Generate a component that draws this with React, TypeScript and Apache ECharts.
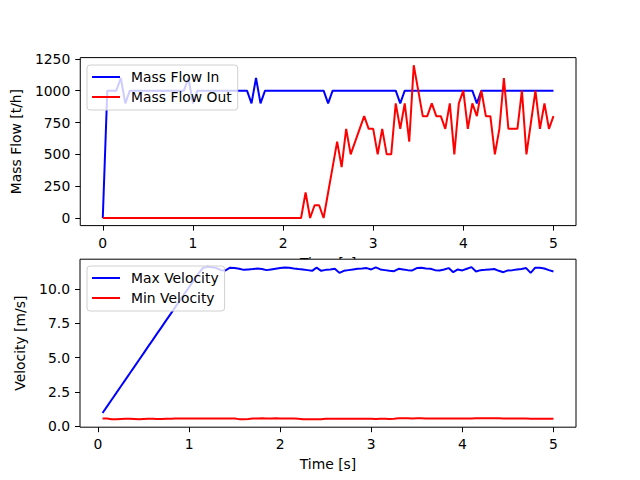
import React, { useEffect, useRef } from "react";
import * as echarts from "echarts";

// ---- Data ----
// time grid for the mass-flow plot (0 .. 5 s, step 0.05)
const timeFlow: number[] = Array.from({ length: 101 }, (_, i) => Math.round(i * 5) / 100);
// time grid for the velocity plot (0.05 .. 5 s, step 0.05)
const timeVel: number[] = Array.from({ length: 100 }, (_, i) => Math.round((i + 1) * 5) / 100);

const massFlowIn: number[] = [
  0, 1000, 1000, 1000, 1100, 900, 1000, 1000, 1000, 1000,
  1000, 1000, 1000, 1000, 1000, 1000, 1000, 1000, 1000, 1100,
  900, 1000, 1000, 1000, 1000, 1000, 1000, 1000, 1000, 1000,
  1000, 1000, 1000, 900, 1100, 900, 1000, 1000, 1000, 1000,
  1000, 1000, 1000, 1000, 1000, 1000, 1000, 1000, 1000, 1000,
  900, 1000, 1000, 1000, 1000, 1000, 1000, 1000, 1000, 1000,
  1000, 1000, 1000, 1000, 1000, 1000, 900, 1000, 1000, 1000,
  1000, 1000, 1000, 1000, 1000, 1000, 1000, 1000, 1000, 1000,
  1000, 1000, 1000, 900, 1000, 1000, 1000, 1000, 1000, 1000,
  1000, 1000, 1000, 1000, 1000, 1000, 1000, 1000, 1000, 1000,
  1000,
];

const massFlowOut: number[] = [
  0, 0, 0, 0, 0, 0, 0, 0, 0, 0,
  0, 0, 0, 0, 0, 0, 0, 0, 0, 0,
  0, 0, 0, 0, 0, 0, 0, 0, 0, 0,
  0, 0, 0, 0, 0, 0, 0, 0, 0, 0,
  0, 0, 0, 0, 0, 200, 0, 100, 100, 0,
  200, 400, 600, 400, 700, 500, 600, 700, 800, 700,
  700, 500, 700, 500, 500, 900, 700, 900, 600, 1200,
  1000, 800, 800, 900, 800, 800, 700, 900, 500, 900,
  1000, 700, 900, 800, 1000, 800, 800, 500, 700, 1100,
  700, 700, 700, 1000, 500, 750, 1000, 700, 900, 700,
  800,
];

const maxVelocity: number[] = [
  0.95, 1.43, 1.92, 2.4, 2.89, 3.37, 3.86, 4.34, 4.83, 5.31,
  5.8, 6.28, 6.77, 7.25, 7.74, 8.22, 8.71, 9.19, 9.68, 10.16,
  10.65, 11.13, 11.55, 11.64, 11.62, 11.55, 11.4, 11.38, 11.58, 11.55,
  11.5, 11.42, 11.45, 11.48, 11.52, 11.48, 11.4, 11.45, 11.5, 11.55,
  11.6, 11.58, 11.52, 11.48, 11.45, 11.4, 11.35, 11.58, 11.35, 11.42,
  11.45, 11.5, 11.2, 11.35, 11.4, 11.45, 11.5, 11.52, 11.55, 11.45,
  11.6, 11.45, 11.4, 11.35, 11.32, 11.5, 11.45, 11.4, 11.38, 11.55,
  11.58, 11.52, 11.5, 11.4, 11.38, 11.45, 11.55, 11.25, 11.45, 11.38,
  11.5, 11.62, 11.3, 11.4, 11.42, 11.45, 11.48, 11.35, 11.25, 11.38,
  11.4, 11.45, 11.48, 11.55, 11.2, 11.58, 11.58, 11.52, 11.4, 11.3,
];

const minVelocity: number[] = [
  0.55, 0.54, 0.5,
  0.5, 0.51, 0.52, 0.52, 0.51, 0.5, 0.51, 0.52, 0.52, 0.51, 0.51, 0.52, 0.52,
  0.54, 0.55, 0.55, 0.54, 0.55, 0.55, 0.55, 0.54, 0.55, 0.55, 0.55, 0.54, 0.54, 0.55,
  0.5, 0.5, 0.51,
  0.55, 0.55, 0.56, 0.55, 0.55, 0.56, 0.55, 0.55, 0.54, 0.55, 0.53,
  0.5, 0.5, 0.49, 0.5, 0.5,
  0.53, 0.53, 0.52, 0.53, 0.53, 0.52, 0.52, 0.53, 0.52, 0.52, 0.52, 0.51, 0.52, 0.52, 0.51, 0.52,
  0.56, 0.56, 0.56, 0.55, 0.56, 0.56, 0.55, 0.55, 0.55, 0.54, 0.55, 0.55, 0.54, 0.54, 0.54, 0.54, 0.55,
  0.57, 0.57, 0.57, 0.56, 0.56, 0.56, 0.55, 0.55, 0.55, 0.55,
  0.54, 0.54, 0.53, 0.53, 0.53, 0.53, 0.53, 0.52,
];

const xTicks: number[] = [0, 1, 2, 3, 4, 5];
const flowTicks: number[] = [0, 250, 500, 750, 1000, 1250];
const velTicks: number[] = [0, 2.5, 5, 7.5, 10];

const FONT = "DejaVu Sans";
const FS = 13.9;

function xAxisCfg(gridIndex: number, min: number, max: number, z: number) {
  return {
    type: "value",
    gridIndex,
    min,
    max,
    z,
    axisLine: { show: false, onZero: false },
    splitLine: { show: false },
    axisTick: { show: true, length: 5, customValues: xTicks, lineStyle: { color: "#000", width: 1 } },
    axisLabel: {
      customValues: xTicks,
      margin: 10,
      color: "#000",
      fontSize: FS,
      fontFamily: FONT,
      formatter: (v: number) => String(v),
    },
    name: "Time [s]",
    nameLocation: "middle",
    nameGap: 29,
    nameTextStyle: { color: "#000", fontSize: FS, fontFamily: FONT, lineHeight: 16 },
  };
}

function yAxisCfg(
  gridIndex: number,
  min: number,
  max: number,
  ticks: number[],
  name: string,
  nameGap: number,
  z: number,
  fmt: (v: number) => string
) {
  return {
    type: "value",
    gridIndex,
    min,
    max,
    z,
    axisLine: { show: false, onZero: false },
    splitLine: { show: false },
    axisTick: { show: true, length: 5, customValues: ticks, lineStyle: { color: "#000", width: 1 } },
    axisLabel: {
      customValues: ticks,
      margin: 10,
      color: "#000",
      fontSize: FS,
      fontFamily: FONT,
      formatter: fmt,
    },
    name,
    nameLocation: "middle",
    nameGap,
    nameTextStyle: { color: "#000", fontSize: FS, fontFamily: FONT, lineHeight: 16 },
  };
}

function legendCfg(names: string[], top: number, z: number) {
  return {
    data: names,
    orient: "vertical",
    left: 87,
    top,
    z,
    icon: "rect",
    itemWidth: 28,
    itemHeight: 2,
    itemGap: 6,
    padding: [5, 6, 6, 5],
    backgroundColor: "rgba(255,255,255,0.8)",
    borderColor: "#d0d0d0",
    borderWidth: 1,
    borderRadius: 3,
    textStyle: { color: "#000", fontSize: FS, fontFamily: FONT, lineHeight: 14, padding: [0, 0, 0, 6] },
  };
}

export default function App() {
  const ref = useRef<HTMLDivElement>(null);

  useEffect(() => {
    if (!ref.current) return;
    const chart = echarts.init(ref.current, undefined, { renderer: "svg" });

    const option = {
      animation: false,
      backgroundColor: "#fff",
      textStyle: { fontFamily: FONT },
      grid: [
        { left: 80, top: 57.6, width: 496, height: 168, show: true, backgroundColor: "#fff", borderColor: "#000", borderWidth: 1, z: 0 },
        { left: 80, top: 259.2, width: 496, height: 168, show: true, backgroundColor: "#fff", borderColor: "#000", borderWidth: 1, z: 5 },
      ],
      xAxis: [xAxisCfg(0, -0.25, 5.25, 0), xAxisCfg(1, -0.1975, 5.2475, 6)],
      yAxis: [
        yAxisCfg(0, -60, 1260, flowTicks, "Mass Flow [t/h]", 46, 0, (v: number) => String(v)),
        yAxisCfg(1, -0.09, 12.2, velTicks, "Velocity [m/s]", 42, 6, (v: number) => v.toFixed(1)),
      ],
      legend: [
        legendCfg(["Mass Flow In", "Mass Flow Out"], 65, 4),
        legendCfg(["Max Velocity", "Min Velocity"], 266, 10),
      ],
      series: [
        {
          name: "Mass Flow In",
          type: "line",
          xAxisIndex: 0,
          yAxisIndex: 0,
          data: timeFlow.map((t, i) => [t, massFlowIn[i]]),
          symbol: "none",
          showSymbol: false,
          lineStyle: { color: "#0000ff", width: 2 },
          itemStyle: { color: "#0000ff" },
          z: 2,
        },
        {
          name: "Mass Flow Out",
          type: "line",
          xAxisIndex: 0,
          yAxisIndex: 0,
          data: timeFlow.map((t, i) => [t, massFlowOut[i]]),
          symbol: "none",
          showSymbol: false,
          lineStyle: { color: "#ff0000", width: 2 },
          itemStyle: { color: "#ff0000" },
          z: 2,
        },
        {
          name: "Max Velocity",
          type: "line",
          xAxisIndex: 1,
          yAxisIndex: 1,
          data: timeVel.map((t, i) => [t, maxVelocity[i]]),
          symbol: "none",
          showSymbol: false,
          lineStyle: { color: "#0000ff", width: 2 },
          itemStyle: { color: "#0000ff" },
          z: 7,
        },
        {
          name: "Min Velocity",
          type: "line",
          xAxisIndex: 1,
          yAxisIndex: 1,
          data: timeVel.map((t, i) => [t, minVelocity[i]]),
          symbol: "none",
          showSymbol: false,
          lineStyle: { color: "#ff0000", width: 2 },
          itemStyle: { color: "#ff0000" },
          z: 7,
        },
      ],
    };

    chart.setOption(option as any);
    return () => chart.dispose();
  }, []);

  return (
    <div
      ref={ref}
      style={{ position: "fixed", left: 0, top: 0, width: 640, height: 480, background: "#fff" }}
    />
  );
}
